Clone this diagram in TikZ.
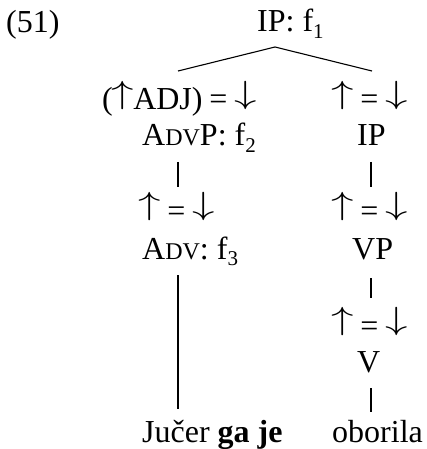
\documentclass[tikz,border=0pt]{standalone}
\usepackage{graphicx}
\usepackage{fontspec}
\setmainfont{Liberation Serif}
\newcommand{\scA}[1]{{\fontsize{24}{24}\selectfont #1}}
\newcommand{\subA}[1]{\raisebox{-0.2em}{\fontsize{21}{21}\selectfont #1}}
\newcommand{\upA}{\raisebox{6.2pt}{\fontsize{10}{12}\selectfont\scalebox{4.48}[3.2]{$\uparrow$}}}
\newcommand{\dnA}{\raisebox{6.2pt}{\fontsize{10}{12}\selectfont\scalebox{4.48}[3.2]{$\downarrow$}}}
\newcommand{\eqA}{\upA\hspace{6.8pt}=\hspace{6.8pt}\dnA}
\begin{document}
\begin{tikzpicture}[x=1pt,y=-1pt,
  lbl/.style={inner sep=0pt,anchor=base west,font=\fontsize{32}{38}\selectfont},
  edge/.style={line width=1.1pt}]
\useasboundingbox (0,0) rectangle (426,449);
\node[lbl] (ex) at (6,33) {(51)};
\node[lbl] (ip) at (257,32) {IP: f\subA{1}};
\node[lbl] (adj) at (102,110) {(\hspace{-1pt}\upA\hspace{-1pt}ADJ)\hspace{6.8pt}=\hspace{6.8pt}\dnA};
\node[lbl] (upA) at (331,110) {\eqA};
\node[lbl] (advp) at (142,146) {A\scA{DV}P: f\subA{2}};
\node[lbl] (ip2) at (357,146) {IP};
\node[lbl] (upB) at (138,221) {\eqA};
\node[lbl] (upC) at (331,221) {\eqA};
\node[lbl] (adv) at (142,259) {A\scA{DV}: f\subA{3}};
\node[lbl] (vp) at (352,259) {VP};
\node[lbl] (upD) at (331,336) {\eqA};
\node[lbl] (v) at (357,372) {V};
\node[lbl] (w1) at (142,442) {Jučer \textbf{ga je}};
\node[lbl] (w2) at (332,442) {oborila};
\coordinate (apex) at (275,47);
\coordinate (l0) at (178,71);
\coordinate (r0) at (372,71);
\coordinate (l1a) at (178,162); \coordinate (l1b) at (178,187);
\coordinate (r1a) at (371,162); \coordinate (r1b) at (371,187);
\coordinate (l2a) at (178,275); \coordinate (l2b) at (178,409);
\coordinate (r2a) at (371,278); \coordinate (r2b) at (371,298);
\coordinate (r3a) at (371,388); \coordinate (r3b) at (371,412);
\draw[edge] (l0) -- (apex) -- (r0);
\draw[edge] (l1a) -- (l1b);
\draw[edge] (r1a) -- (r1b);
\draw[edge] (l2a) -- (l2b);
\draw[edge] (r2a) -- (r2b);
\draw[edge] (r3a) -- (r3b);
\end{tikzpicture}
\end{document}
